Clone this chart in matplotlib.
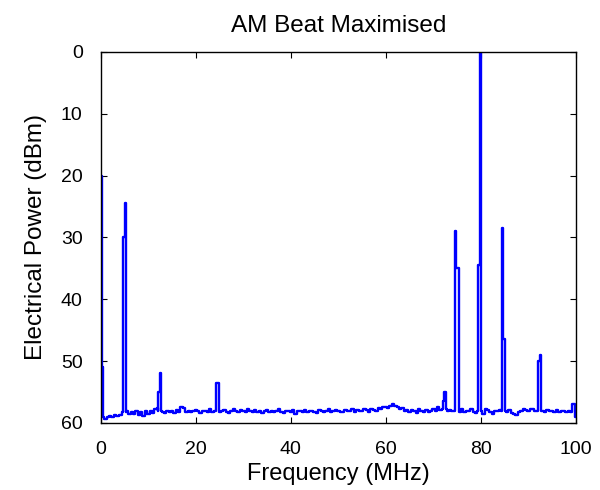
import numpy as np
import matplotlib
matplotlib.use("Agg")
import matplotlib.pyplot as plt

# noise floor, sampled every 0.5 MHz from 0 to 100 MHz (dBm, shown as positive loss)
noise_step = 0.5
noise_floor = [
    59.2, 59.0, 59.3, 59.1, 58.9, 59.0, 58.8, 58.9, 58.7, 58.8,
    58.2, 58.0, 58.5, 58.3, 58.6, 58.0, 58.8, 58.2, 58.9, 58.1,
    58.6, 58.0, 58.4, 57.8, 57.6, 57.9, 58.2, 58.4, 58.0, 58.3,
    58.1, 58.4, 57.9, 58.3, 57.5, 57.6, 58.2, 58.0, 58.3, 58.1,
    57.9, 58.0, 58.4, 58.1, 58.0, 58.3, 57.8, 58.2, 58.0, 58.2,
    58.3, 58.0, 57.9, 58.2, 58.4, 58.0, 57.7, 58.1, 58.3, 57.9,
    58.0, 58.2, 57.8, 58.1, 58.3, 57.9, 58.2, 58.0, 58.4, 58.1,
    57.9, 58.2, 58.0, 58.3, 58.1, 57.8, 58.2, 58.4, 58.0, 58.1,
    58.3, 57.9, 58.5, 58.1, 58.0, 58.2, 57.9, 58.3, 58.1, 58.0,
    58.2, 58.4, 57.9, 58.1, 58.3, 58.0, 57.8, 58.2, 58.1, 57.9,
    58.0, 58.2, 58.3, 57.9, 58.1, 58.0, 57.8, 58.2, 57.9, 58.0,
    58.1, 57.8, 57.9, 58.2, 57.7, 57.9, 58.0, 57.6, 57.8, 57.5,
    57.4, 57.6, 57.2, 57.0, 57.3, 57.5, 57.8, 57.6, 58.0, 57.9,
    58.2, 57.9, 58.1, 58.4, 57.8, 58.0, 58.2, 57.9, 58.3, 58.0,
    57.7, 58.0, 57.5, 57.9, 57.8, 58.0, 58.0, 57.9, 58.1, 58.0,
    58.0, 58.2, 57.8, 58.3, 58.1, 58.0, 57.7, 58.2, 58.4, 58.0,
    58.0, 58.5, 57.8, 57.9, 58.3, 58.6, 58.0, 58.1, 57.9, 58.0,
    58.0, 58.2, 57.9, 58.4, 58.6, 58.8, 58.3, 58.0, 57.8, 57.9,
    58.0, 57.7, 57.8, 58.0, 57.9, 58.1, 58.0, 58.2, 57.9, 58.0,
    58.1, 58.3, 57.9, 58.2, 58.0, 58.1, 58.3, 58.0, 58.2, 57.0,
    59.0,
]

# spectral lines (frequency in MHz, power in dBm), including their base points
spike_freqs = [
    [0.0, 0.15, 0.2, 0.4],
    [4.6, 4.65, 5.0, 5.05, 5.2, 5.25],
    [12.1, 12.15, 12.4, 12.45, 12.6, 12.65],
    [24.3, 24.35, 24.75, 24.8],
    [72.0, 72.05, 72.3, 72.35, 72.6, 72.65],
    [74.6, 74.65, 74.8, 74.85, 75.3, 75.35],
    [79.4, 79.45, 79.75, 79.8, 80.0, 80.05],
    [84.5, 84.55, 84.7, 84.75, 85.1, 85.15],
    [92.0, 92.05, 92.35, 92.4, 92.7, 92.75],
]
spike_powers = [
    [20, 20, 51, 51],
    [58.2, 30, 30, 24.5, 24.5, 58.2],
    [58.0, 55, 55, 52, 52, 58.0],
    [58.0, 53.5, 53.5, 58.0],
    [57.8, 56.5, 56.5, 55, 55, 57.8],
    [58.0, 29, 29, 35, 35, 58.0],
    [58.0, 34.5, 34.5, 0, 0, 58.0],
    [58.0, 28.5, 28.5, 46.5, 46.5, 58.0],
    [58.0, 50, 50, 49, 49, 58.0],
]

x_ticks = [0, 20, 40, 60, 80, 100]
y_ticks = [0, 10, 20, 30, 40, 50, 60]


def build_trace():
    freq = np.arange(len(noise_floor)) * noise_step
    power = np.array(noise_floor, dtype=float)
    keep = np.ones(len(freq), dtype=bool)
    for sf in spike_freqs:
        keep &= ~((freq >= sf[0]) & (freq <= sf[-1]))
    fx = list(freq[keep])
    py = list(power[keep])
    for sf, sp in zip(spike_freqs, spike_powers):
        fx += sf
        py += sp
    order = np.argsort(fx, kind="stable")
    return np.array(fx)[order], np.array(py)[order]


def main():
    plt.rcParams['font.family'] = ['Liberation Sans', 'DejaVu Sans']
    fig = plt.figure(figsize=(6, 4.9), dpi=100)
    ax = fig.add_axes([0.168, 0.137, 0.792, 0.757])

    fx, py = build_trace()
    ax.plot(fx, py, color='#0000ff', lw=1.7, drawstyle='steps-mid')

    ax.set_xlim(0, 100)
    ax.set_ylim(60, 0)
    ax.set_xticks(x_ticks)
    ax.set_yticks(y_ticks)
    ax.tick_params(direction='in', length=4.5, width=0.8, top=True, right=True,
                   labelsize=14, pad=13)
    for s in ax.spines.values():
        s.set_linewidth(1.0)

    ax.set_title('AM Beat Maximised', fontsize=17.5, pad=14)
    ax.set_xlabel('Frequency (MHz)', fontsize=17, labelpad=4)
    ax.set_ylabel('Electrical Power (dBm)', fontsize=17.5, labelpad=10)

    fig.savefig('out.png', dpi=100)


if __name__ == "__main__":
    main()
